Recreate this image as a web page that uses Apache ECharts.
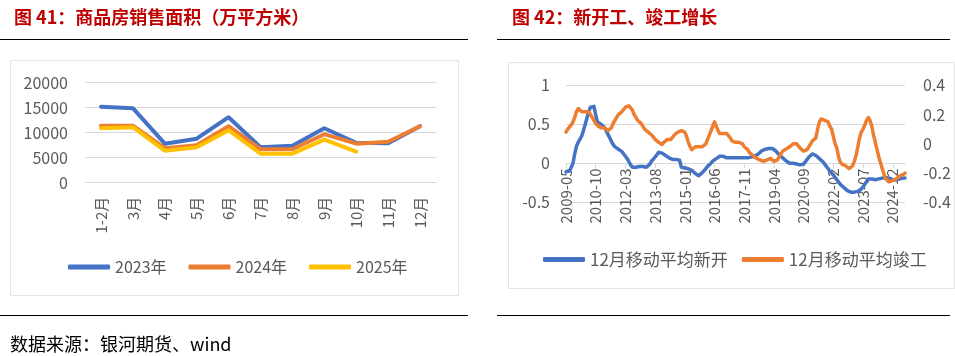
<!DOCTYPE html>
<html><head><meta charset="utf-8">
<script src="https://cdn.jsdelivr.net/npm/echarts@6/dist/echarts.min.js"></script>
<style>html,body{margin:0;padding:0;background:#fff}#c{width:955px;height:356px}</style>
</head><body><div id="c"></div>
<script>
// ---- Left chart: 商品房销售面积（万平方米）
const salesCats = ['1-2月','3月','4月','5月','6月','7月','8月','9月','10月','11月','12月'];
const sales2023 = [15200, 14900, 7800, 8800, 13100, 7100, 7400, 10900, 8000, 7900, 11300];
const sales2024 = [11400, 11400, 6900, 7500, 11300, 6700, 6700, 9700, 7800, 8200, 11300];
const sales2025 = [10900, 11100, 6400, 7100, 10500, 5800, 5800, 8600, 6200];
const salesTicks = [0, 5000, 10000, 15000, 20000];

// ---- Right chart: 新开工、竣工增长 (monthly, from 2009-05)
const startMonth = '2009-05';
const newStarts = [
-0.11,-0.11,-0.10,-0.08,0.00,0.12,0.22,0.27,0.31,0.35,
0.42,0.50,0.58,0.66,0.72,0.74,0.73,0.62,0.53,0.51,
0.50,0.49,0.46,0.42,0.37,0.33,0.28,0.24,0.21,0.19,
0.18,0.17,0.15,0.12,0.09,0.06,0.02,-0.02,-0.05,-0.06,
-0.05,-0.04,-0.04,-0.03,-0.04,-0.05,-0.05,-0.04,-0.01,0.03,
0.05,0.08,0.11,0.14,0.15,0.13,0.11,0.10,0.09,0.07,
0.06,0.05,0.04,0.05,0.05,0.04,-0.05,-0.06,-0.06,-0.06,
-0.07,-0.08,-0.09,-0.11,-0.13,-0.15,-0.16,-0.14,-0.12,-0.10,
-0.07,-0.04,-0.02,0.00,0.03,0.04,0.06,0.08,0.09,0.09,
0.09,0.08,0.07,0.07,0.07,0.08,0.07,0.07,0.07,0.08,
0.07,0.07,0.07,0.08,0.07,0.07,0.08,0.08,0.09,0.10,
0.12,0.14,0.16,0.17,0.18,0.19,0.19,0.19,0.19,0.18,
0.16,0.14,0.11,0.09,0.07,0.05,0.03,0.01,0.00,0.00,
0.00,0.00,-0.01,-0.01,-0.02,-0.02,-0.01,0.02,0.05,0.08,
0.10,0.12,0.12,0.10,0.08,0.06,0.04,0.02,-0.01,-0.04,
-0.07,-0.10,-0.12,-0.15,-0.18,-0.21,-0.24,-0.27,-0.29,-0.31,
-0.33,-0.35,-0.36,-0.37,-0.37,-0.37,-0.37,-0.36,-0.35,-0.33,
-0.30,-0.27,-0.23,-0.20,-0.20,-0.20,-0.20,-0.21,-0.20,-0.20,
-0.19,-0.19,-0.18,-0.18,-0.19,-0.19,-0.20,-0.21,-0.21,-0.21,
-0.20,-0.20,-0.20,-0.19,-0.19
];
const completions = [
0.08,0.10,0.11,0.13,0.15,0.18,0.22,0.24,0.23,0.22,
0.21,0.22,0.23,0.22,0.20,0.18,0.16,0.14,0.125,0.12,
0.11,0.11,0.11,0.11,0.09,0.08,0.11,0.14,0.16,0.18,
0.20,0.21,0.22,0.23,0.25,0.26,0.26,0.25,0.23,0.20,
0.18,0.16,0.15,0.14,0.13,0.10,0.09,0.08,0.07,0.06,
0.05,0.03,0.02,0.01,0.00,-0.005,0.01,0.02,0.03,0.02,
0.03,0.04,0.06,0.07,0.08,0.09,0.09,0.08,0.08,0.05,
0.01,-0.02,-0.04,-0.045,-0.02,-0.01,-0.02,-0.03,-0.02,-0.01,
0.00,0.03,0.06,0.09,0.12,0.15,0.14,0.09,0.07,0.07,
0.07,0.08,0.07,0.06,0.04,0.02,0.01,0.01,0.02,0.01,
0.01,0.00,-0.02,-0.03,-0.04,-0.06,-0.07,-0.08,-0.09,-0.10,
-0.11,-0.11,-0.12,-0.12,-0.12,-0.11,-0.10,-0.10,-0.11,-0.12,
-0.125,-0.11,-0.09,-0.07,-0.05,-0.04,-0.035,-0.03,-0.02,-0.01,
0.00,0.00,0.00,-0.01,-0.03,-0.04,-0.05,-0.06,-0.04,-0.02,
0.00,0.02,0.03,0.04,0.10,0.15,0.17,0.17,0.16,0.16,
0.15,0.12,0.10,0.05,0.00,-0.03,-0.09,-0.125,-0.14,-0.14,
-0.15,-0.16,-0.17,-0.16,-0.15,-0.12,-0.08,-0.02,0.04,0.08,
0.10,0.13,0.16,0.18,0.16,0.12,0.06,0.01,-0.04,-0.09,
-0.13,-0.17,-0.21,-0.24,-0.25,-0.26,-0.26,-0.25,-0.25,-0.24,
-0.23,-0.22,-0.22,-0.21,-0.20
];
const leftTicks = [-0.5, 0, 0.5, 1];
const rightTicks = [-0.4, -0.2, 0, 0.2, 0.4];

// month category labels
const months = [];
{
  let [y, m] = startMonth.split('-').map(Number);
  for (let i = 0; i < newStarts.length; i++) {
    months.push(y + '-' + String(m).padStart(2, '0'));
    m++; if (m > 12) { m = 1; y++; }
  }
}

const FONT = '"Noto Sans CJK SC", "Noto Sans", sans-serif';
const GRAY = '#595959';
const GRID = '#d9d9d9';

const chart = echarts.init(document.getElementById('c'), null, {renderer: 'canvas'});

const lineSeries = (name, data, color, xi, yi, w) => ({
  name, type: 'line', data, xAxisIndex: xi, yAxisIndex: yi,
  showSymbol: false, symbol: 'none', smooth: false,
  lineStyle: {color, width: w, cap: 'round', join: 'round'},
  itemStyle: {color}, emphasis: {disabled: true}, animation: false
});

// right grid geometry: axis sits at value 0 of the left y axis
const rGridTop = 85.3, rGridBottomPx = 202.3;
const zeroOffset = -(rGridBottomPx - (rGridTop + (rGridBottomPx - rGridTop) * (leftTicks[leftTicks.length - 1] - 0) / (leftTicks[leftTicks.length - 1] - leftTicks[0])));

chart.setOption({
  animation: false,
  backgroundColor: '#fff',
  textStyle: {fontFamily: FONT},
  title: [
    {text: '图 41：商品房销售面积（万平方米）', left: 9, top: 3,
     textStyle: {color: '#c00000', fontSize: 18, fontWeight: 'bold', fontFamily: FONT}},
    {text: '图 42：新开工、竣工增长', left: 507, top: 3,
     textStyle: {color: '#c00000', fontSize: 18, fontWeight: 'bold', fontFamily: FONT}}
  ],
  graphic: [
    {type: 'line', shape: {x1: 0, y1: 39.5, x2: 468, y2: 39.5}, style: {stroke: '#000', lineWidth: 1}},
    {type: 'line', shape: {x1: 497, y1: 39.5, x2: 950, y2: 39.5}, style: {stroke: '#000', lineWidth: 1}},
    {type: 'line', shape: {x1: 0, y1: 315.5, x2: 468, y2: 315.5}, style: {stroke: '#000', lineWidth: 1}},
    {type: 'line', shape: {x1: 497, y1: 315.5, x2: 950, y2: 315.5}, style: {stroke: '#000', lineWidth: 1}},
    {type: 'rect', shape: {x: 10.5, y: 60.5, width: 448, height: 235}, style: {fill: 'none', stroke: '#e3e3e3', lineWidth: 1}, z: -1},
    {type: 'rect', shape: {x: 508.5, y: 62.5, width: 446, height: 226}, style: {fill: 'none', stroke: '#e3e3e3', lineWidth: 1}, z: -1},
    {type: 'text', left: 10, top: 335, style: {text: '数据来源：银河期货、wind', fill: '#000', font: '18px ' + FONT}}
  ],
  legend: [
    {data: ['2023年', '2024年', '2025年'], left: 68, top: 259, padding: 0, icon: 'roundRect',
     itemWidth: 42, itemHeight: 5, itemGap: 22, textStyle: {fontSize: 16, color: GRAY, fontFamily: FONT}},
    {data: ['12月移动平均新开', '12月移动平均竣工'], left: 543, top: 251, padding: 0, icon: 'roundRect',
     itemWidth: 42, itemHeight: 5, itemGap: 14, textStyle: {fontSize: 17, color: GRAY, fontFamily: FONT}}
  ],
  grid: [
    {left: 85, right: 519, top: 82.7, bottom: 173.3, containLabel: false, outerBoundsMode: 'none'},
    {left: 566, right: 50, top: rGridTop, bottom: 356 - rGridBottomPx, containLabel: false, outerBoundsMode: 'none'}
  ],
  xAxis: [
    {type: 'category', gridIndex: 0, data: salesCats, boundaryGap: true,
     axisLine: {lineStyle: {color: GRID}}, axisTick: {show: false},
     axisLabel: {rotate: 90, color: GRAY, fontSize: 15, margin: 14, fontFamily: FONT, interval: 0},
     splitLine: {show: false}},
    {type: 'category', gridIndex: 1, data: months, boundaryGap: false, offset: zeroOffset,
     axisLine: {onZero: false, lineStyle: {color: GRID}},
     axisTick: {show: true, interval: 16, length: 5, lineStyle: {color: GRID}},
     axisLabel: {rotate: 90, color: GRAY, fontSize: 15, margin: 5, fontFamily: FONT, interval: 16},
     splitLine: {show: false}}
  ],
  yAxis: [
    {type: 'value', gridIndex: 0, min: salesTicks[0], max: salesTicks[salesTicks.length - 1], interval: 5000,
     axisLine: {show: false}, axisTick: {show: false},
     axisLabel: {color: GRAY, fontSize: 16, margin: 17, fontFamily: FONT, formatter: v => String(v)},
     splitLine: {lineStyle: {color: GRID, width: 1}}},
    {type: 'value', gridIndex: 1, min: leftTicks[0], max: leftTicks[leftTicks.length - 1], interval: 0.5,
     axisLine: {show: false}, axisTick: {show: false},
     axisLabel: {color: GRAY, fontSize: 16, margin: 16, fontFamily: FONT},
     splitLine: {lineStyle: {color: GRID, width: 1}}},
    {type: 'value', gridIndex: 1, position: 'right', min: rightTicks[0], max: rightTicks[rightTicks.length - 1], interval: 0.2,
     axisLine: {show: false}, axisTick: {show: false},
     axisLabel: {color: GRAY, fontSize: 16, margin: 18, fontFamily: FONT},
     splitLine: {show: false}}
  ],
  series: [
    lineSeries('2023年', sales2023, '#4472c4', 0, 0, 4),
    lineSeries('2024年', sales2024, '#ed7d31', 0, 0, 4),
    lineSeries('2025年', sales2025, '#ffc000', 0, 0, 4),
    lineSeries('12月移动平均新开', newStarts, '#4472c4', 1, 1, 3.5),
    lineSeries('12月移动平均竣工', completions, '#ed7d31', 1, 2, 3.5)
  ]
});
</script>
</body></html>
